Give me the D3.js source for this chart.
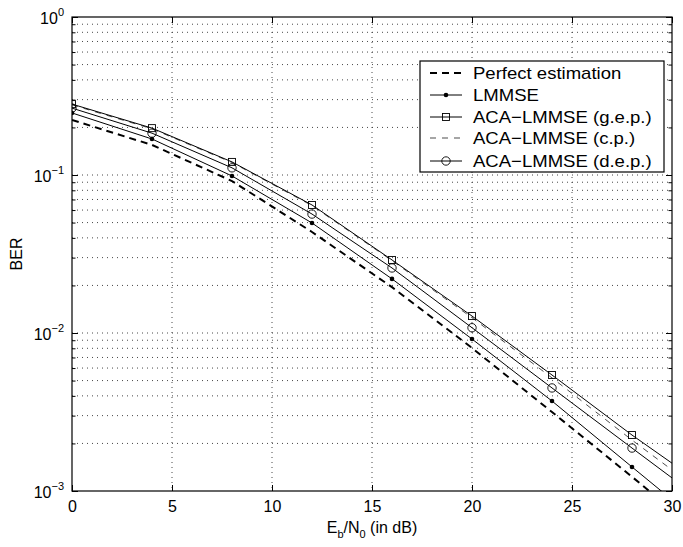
<!DOCTYPE html>
<html><head><meta charset="utf-8">
<script src="https://cdn.jsdelivr.net/npm/d3@7"></script>
<style>
body{margin:0;background:#fff;}
text{font-family:"Liberation Sans",Arial,Helvetica,sans-serif;fill:#000;}
</style></head>
<body>
<svg id="c" width="683" height="547"></svg>
<script>
const xs = [0,4,8,12,16,20,24,28,30];
const markerIdx = [0,1,2,3,4,5,6,7];
const perfect = [0.223,0.155,0.0916,0.0436,0.0195,0.00804,0.00316,0.00123,0.00076];
const lmmse   = [0.247,0.169,0.0986,0.0497,0.0220,0.00916,0.00371,0.00142,0.00088];
const gep     = [0.281,0.198,0.121,0.0646,0.0290,0.0128,0.00542,0.00226,0.00150];
const cp      = [0.278,0.196,0.120,0.0640,0.0287,0.0125,0.00520,0.00210,0.00136];
const dep     = [0.265,0.184,0.111,0.0566,0.0258,0.0108,0.00449,0.00187,0.00121];
const seriesNames = ["Perfect estimation","LMMSE","ACA\u2212LMMSE (g.e.p.)","ACA\u2212LMMSE (c.p.)","ACA\u2212LMMSE (d.e.p.)"];
const xTicks = [0,5,10,15,20,25,30];
const yDecades = [-3,-2,-1,0];

const L=72,R=672,T=17,B=491;
const svg=d3.select("#c");
const x=d3.scaleLinear().domain([0,30]).range([L,R]);
const y=d3.scaleLog().domain([1e-3,1]).range([B,T]);

svg.append("defs").append("clipPath").attr("id","clip")
  .append("rect").attr("x",L).attr("y",T).attr("width",R-L).attr("height",B-T);

// grid
const g=svg.append("g");
const minorVals=[];
for(let d=-3;d<0;d++){for(let m=1;m<10;m++){minorVals.push(m*Math.pow(10,d));}}
minorVals.push(1);
const gridStyle=s=>s.attr("stroke","#333").attr("stroke-width",0.9).attr("stroke-dasharray","1,4").attr("fill","none");
minorVals.filter(v=>v>1e-3&&v<1).forEach(v=>{
  g.append("line").attr("x1",L).attr("x2",R).attr("y1",y(v)).attr("y2",y(v)).call(gridStyle);
});
xTicks.filter(t=>t>0&&t<30).forEach(t=>{
  g.append("line").attr("x1",x(t)).attr("x2",x(t)).attr("y1",T).attr("y2",B).call(gridStyle);
});

// axes via d3
const xAxisB=d3.axisBottom(x).tickValues(xTicks).tickSizeInner(-6).tickSizeOuter(0).tickPadding(10).tickFormat(d3.format("d"));
const ga=svg.append("g").attr("transform",`translate(0,${B})`).call(xAxisB);
ga.select(".domain").remove();
ga.selectAll("line").attr("stroke","#000");
ga.selectAll("text").attr("font-size",16).attr("font-family","Liberation Sans, Arial, sans-serif");
const xAxisT=d3.axisTop(x).tickValues(xTicks).tickSizeInner(-6).tickSizeOuter(0).tickFormat("");
const gt=svg.append("g").attr("transform",`translate(0,${T})`).call(xAxisT);
gt.select(".domain").remove();

const yMajor=yDecades.map(d=>Math.pow(10,d));
const yMinor=minorVals.filter(v=>!yMajor.some(m=>Math.abs(m-v)<1e-12));
function yAx(axisFn,tx){
  const gm=svg.append("g").attr("transform",`translate(${tx},0)`).call(axisFn(y).tickValues(yMajor).tickSizeInner(-6).tickSizeOuter(0).tickFormat(""));
  gm.select(".domain").remove();
  const gn=svg.append("g").attr("transform",`translate(${tx},0)`).call(axisFn(y).tickValues(yMinor).tickSizeInner(-3.5).tickSizeOuter(0).tickFormat(""));
  gn.select(".domain").remove();
}
yAx(d3.axisLeft,L);
yAx(d3.axisRight,R);

// y tick labels 10^n
yDecades.forEach(d=>{
  const t=svg.append("text").attr("x",L-8).attr("y",y(Math.pow(10,d))+7).attr("text-anchor","end").attr("font-size",16);
  t.append("tspan").text("10");
  t.append("tspan").attr("dy",-8).attr("font-size",11).text(String(d).replace("-","\u2212"));
});

// box
svg.append("rect").attr("x",L).attr("y",T).attr("width",R-L).attr("height",B-T).attr("fill","none").attr("stroke","#000").attr("stroke-width",1.2);

// axis labels
svg.append("text").attr("transform",`translate(22,${(T+B)/2}) rotate(-90)`).attr("text-anchor","middle").attr("font-size",16).text("BER");
const xl=svg.append("text").attr("x",(L+R)/2).attr("y",533).attr("text-anchor","middle").attr("font-size",16);
xl.append("tspan").text("E");
xl.append("tspan").attr("dy",5).attr("font-size",11).text("b");
xl.append("tspan").attr("dy",-5).text("/N");
xl.append("tspan").attr("dy",5).attr("font-size",11).text("0");
xl.append("tspan").attr("dy",-5).text(" (in dB)");

// series
const series=[
 {name:seriesNames[0],vals:perfect,w:2,dash:"7,5",marker:null},
 {name:seriesNames[1],vals:lmmse,w:1,dash:null,marker:"dot"},
 {name:seriesNames[2],vals:gep,w:1,dash:null,marker:"square"},
 {name:seriesNames[3],vals:cp,w:0.7,dash:"6,6",marker:null},
 {name:seriesNames[4],vals:dep,w:1,dash:null,marker:"circle"}
];
const line=d3.line().x(d=>x(d[0])).y(d=>y(d[1]));
const pl=svg.append("g").attr("clip-path","url(#clip)");
function drawMarker(sel,type,cx,cy){
  if(type==="dot") sel.append("circle").attr("cx",cx).attr("cy",cy).attr("r",2.3).attr("fill","#000");
  else if(type==="square") sel.append("rect").attr("x",cx-3.5).attr("y",cy-3.5).attr("width",7).attr("height",7).attr("fill","none").attr("stroke","#000").attr("stroke-width",0.9);
  else if(type==="circle") sel.append("circle").attr("cx",cx).attr("cy",cy).attr("r",4.2).attr("fill","none").attr("stroke","#000").attr("stroke-width",0.9);
}
series.forEach(s=>{
  const pts=xs.map((xv,i)=>[xv,s.vals[i]]);
  const p=pl.append("path").attr("d",line(pts)).attr("fill","none").attr("stroke","#000").attr("stroke-width",s.w);
  if(s.dash) p.attr("stroke-dasharray",s.dash);
  if(s.marker) markerIdx.forEach(i=>drawMarker(pl,s.marker,x(xs[i]),y(s.vals[i])));
});

// legend
const lg=svg.append("g");
lg.append("rect").attr("x",420).attr("y",61).attr("width",244).attr("height",111).attr("fill","#fff").attr("stroke","#000").attr("stroke-width",1.2);
const rows=[73,95,117,138,161];
series.forEach((s,i)=>{
  const ry=rows[i];
  const l=lg.append("line").attr("x1",430).attr("x2",462).attr("y1",ry).attr("y2",ry).attr("stroke","#000").attr("stroke-width",s.w);
  if(s.dash) l.attr("stroke-dasharray",s.dash);
  if(s.marker) drawMarker(lg,s.marker,446,ry);
  const t=lg.append("text").attr("x",473).attr("y",ry+6).attr("font-size",17).text(s.name);
  const w=t.node().getComputedTextLength();
  t.attr("textLength",w*1.09).attr("lengthAdjust","spacingAndGlyphs");
});
</script>
</body></html>
